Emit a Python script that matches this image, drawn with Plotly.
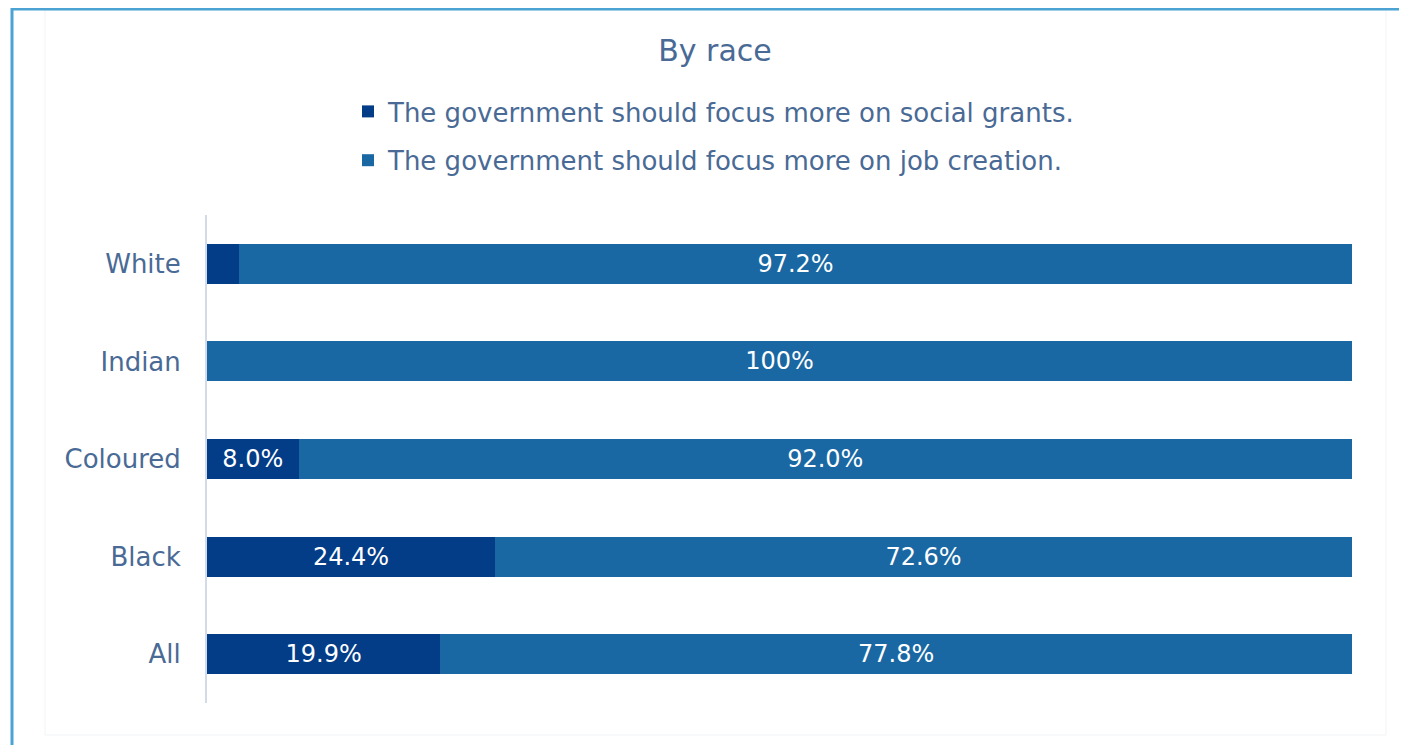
import plotly.graph_objects as go

categories = ["All", "Black", "Coloured", "Indian", "White"]
social_grants = [19.9, 24.4, 8.0, 0.0, 2.8]
job_creation = [77.8, 72.6, 92.0, 100.0, 97.2]
series_names = [
    "The government should focus more on social grants.",
    "The government should focus more on job creation.",
]
title_text = "By race"

DARK = "#033c87"
LIGHT = "#1a68a3"
TEXT = "#4a6a96"
FONT = "DejaVu Sans"

OFF = 8  # page body margin
W, H = 1407 - OFF, 745 - OFF
L = 207 - OFF
R = W - (1352 - OFF)
T = 215 - OFF
B = H - (703 - OFF)
pw, ph = W - L - R, H - T - B


def fmt(v):
    if v < 5:
        return ""
    if v == 100:
        return "100%"
    return f"{v:.1f}%"


def px_x(p):
    return (p - OFF - L) / pw


def px_y(p):
    return (H - B - (p - OFF)) / ph


fig = go.Figure()
for name, vals, col, grp in [
    (series_names[0], social_grants, DARK, "a"),
    (series_names[1], job_creation, LIGHT, "b"),
]:
    fig.add_trace(go.Bar(
        y=categories, x=vals, orientation="h", name=name,
        marker=dict(color=col, line=dict(width=0)),
        text=[fmt(v) for v in vals], textposition="inside",
        insidetextanchor="middle", constraintext="none",
        textfont=dict(color="white", size=24, family=FONT),
        legendgroup=grp, hoverinfo="skip",
    ))

fig.update_layout(
    width=W, height=H,
    margin=dict(l=L, r=R, t=T, b=B),
    barmode="stack", barnorm="percent", bargap=0.59,
    paper_bgcolor="white", plot_bgcolor="white",
    font=dict(family=FONT, color=TEXT, size=26),
    title=dict(text=title_text, x=(715 - OFF) / W, xanchor="center",
               xref="container", y=1 - (50 - OFF) / H, yanchor="middle",
               yref="container", font=dict(size=30, color=TEXT, family=FONT)),
    legend=dict(x=px_x(348), xanchor="left", y=px_y(88), yanchor="top",
                traceorder="grouped", tracegroupgap=12,
                font=dict(size=26, color=TEXT, family=FONT),
                bgcolor="rgba(0,0,0,0)"),
    xaxis=dict(range=[0, 100], visible=False, fixedrange=True),
    yaxis=dict(categoryorder="array", categoryarray=categories,
               showline=True, linecolor="#d3dbe8", linewidth=2,
               showgrid=False, ticks="", ticklabelstandoff=19,
               tickfont=dict(size=26, color=TEXT, family=FONT)),
    shapes=[
        dict(type="rect", xref="paper", yref="paper",
             x0=px_x(45), x1=px_x(1386), y0=px_y(735), y1=px_y(10),
             line=dict(color="#f1f3f6", width=1), layer="below"),
        dict(type="rect", xref="paper", yref="paper",
             x0=px_x(12), x1=px_x(1430), y0=px_y(770), y1=px_y(9),
             line=dict(color="#4aa3d3", width=3), layer="above"),
    ],
)

fig.write_html("out.html")
